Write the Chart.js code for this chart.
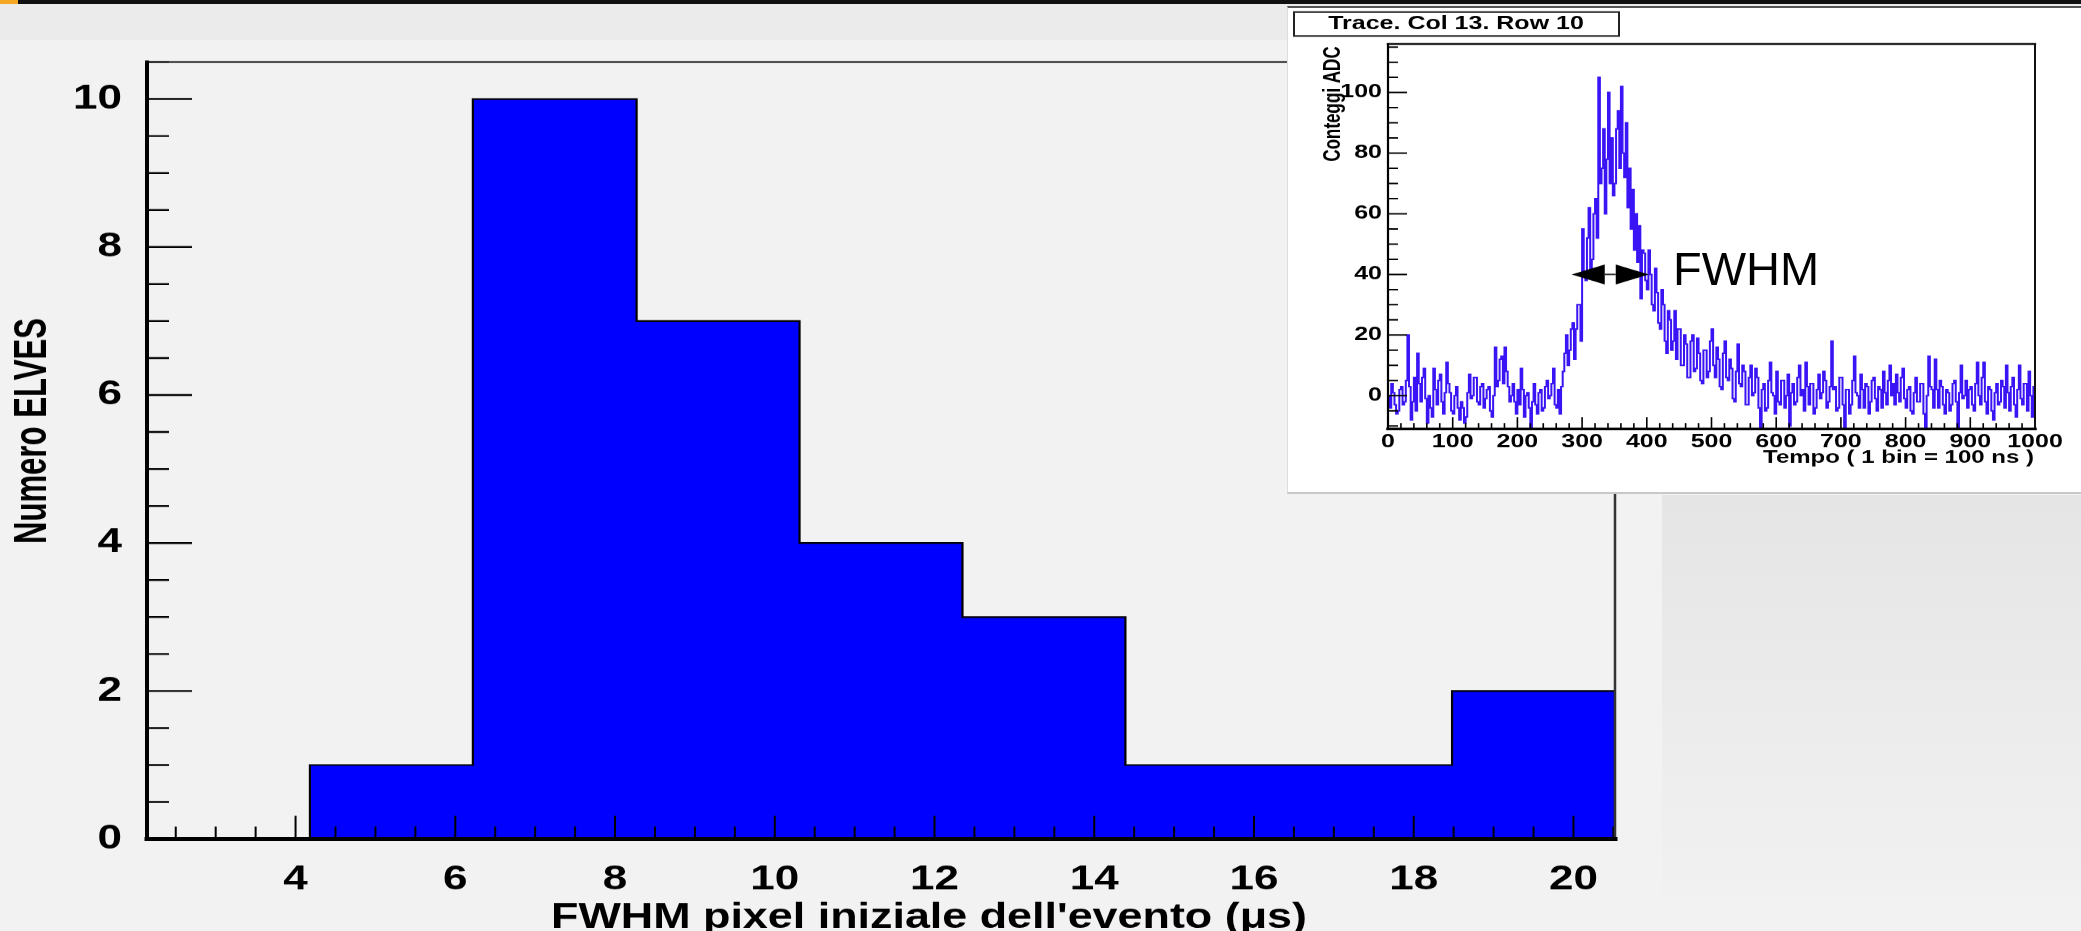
<!DOCTYPE html>
<html>
<head>
<meta charset="utf-8">
<title>FWHM pixel iniziale</title>
<script src="https://cdn.jsdelivr.net/npm/chart.js@4.4.1/dist/chart.umd.min.js"></script>
<style>
  html, body { margin: 0; padding: 0; }
  body {
    width: 2081px; height: 931px; overflow: hidden; position: relative;
    background: #f2f2f2; font-family: 'Liberation Sans', Arial, sans-serif;
  }
  .topbar { position: absolute; left: 0; top: 0; width: 2081px; height: 4px; background: #111; }
  .topbar-accent { position: absolute; left: 0; top: 0; width: 18px; height: 4px; background: #f5a623; }
  .header { position: absolute; left: 0; top: 4px; width: 2081px; height: 36px; background: #ebebeb; }
  .side-panel { position: absolute; left: 1662px; top: 495px; width: 419px; height: 400px; background: linear-gradient(#e5e5e5, #f1f1f1); }
  .inset-panel {
    position: absolute; left: 1287px; top: 6px; width: 794px; height: 484px; background: #fff;
    border-top: 2px solid #555; border-bottom: 2px solid #c8c8c8; border-left: 1px solid #ddd;
  }
  .squash { position: absolute; transform-origin: 0 0; }
  #main-wrap { left: 0; top: 0; transform: scaleY(0.77); }
  #inset-wrap { left: 1287px; top: 4px; transform: scaleY(0.74); }
  #fwhm-label { position: absolute; left: 0; top: 0; width: 2081px; height: 931px; pointer-events: none; }
</style>
</head>
<body>
<div class="topbar"></div>
<div class="topbar-accent"></div>
<div class="header"></div>
<div class="side-panel"></div>

<div id="main-wrap" class="squash">
  <canvas id="hist-chart" width="2081" height="1209" style="width:2081px;height:1209px"></canvas>
</div>

<div class="inset-panel"></div>
<div id="inset-wrap" class="squash">
  <canvas id="trace-chart" width="794" height="658" style="width:794px;height:658px"></canvas>
</div>

<svg id="fwhm-label" width="2081" height="931">
  <text x="1673" y="285" font-family="Liberation Sans, Arial, sans-serif" font-size="47" fill="#000">FWHM</text>
</svg>

<script>
/* ─── histogram: FWHM of the first pixel ─── */
var fwhmBinEdges = [2.14, 4.18, 6.22, 8.27, 10.31, 12.35, 14.39, 16.44, 18.48, 20.52];
var elvesCounts  = [0, 1, 10, 7, 4, 3, 1, 1, 2];
var fwhmTicks    = [4, 6, 8, 10, 12, 14, 16, 18, 20];
var elvesTicks   = [0, 2, 4, 6, 8, 10];

/* ─── inset: ADC trace, one value every 2.5 bins of 100 ns ─── */
var traceStep = 2.5;
var adcTrace = [
  0,-4, 4,1, -3,-6, -5,2, 3,-3, -2,5, 20,3, -8,-2, 6,-5, 14,4, -2,6, 9,-1, -9,0, -4,-7, 9,2, -3,5, 7,-2, -6,1, 11,4, 1,-5,
  -6,0, 3,-4, -8,-2, -4,-9, -7,1, 7,-1, 0,6, 6,-2, -3,3, 4,-4, -1,2, 3,-5, -7,0, 16,3, 5,12, 13,4, 16,8, 3,-2, 0,4, -2,-6,
  2,-3, 9,2, -7,0, 1,-4, -11,-2, 4,-3, -6,1, 2,-5, -4,3, 5,-1, 0,4, 9,-3, -4,2, -6,3, 8,14, 20,10, 15,22, 24,12, 22,30, 30,18,
  55,40, 38,52, 62,40, 45,60, 65,52, 105,70, 75,88, 60,78, 100,70, 85,66, 70,88, 94,75, 102,80, 72,90, 62,75, 55,68, 48,60, 44,56, 32,48, 47,38,
  35,48, 40,30, 28,42, 34,24, 22,35, 30,18, 14,28, 25,15, 18,28, 12,22, 22,10, 10,20, 17,6, 6,18, 20,8, 9,19, 14,5, 4,15, 15,6, 8,18,
  22,10, 6,16, 12,3, 2,14, 18,6, 5,12, 9,-1, -2,8, 17,4, 3,10, 8,-3, -3,6, 10,0, 1,9, 6,-4, -11,2, 4,-5, -4,5, 11,1, 0,-6,
  8,-2, -3,5, 5,-4, 0,7, -10,1, 4,-3, -2,6, 10,0, 2,-5, 11,3, -3,4, 4,-6, -4,2, 7,-1, 1,8, 5,-4, -2,3, 18,2, 3,-5, -4,6,
  6,-3, -11,2, 2,-6, -3,5, 13,1, 0,-4, 7,2, -4,4, 3,-6, -2,5, 6,-1, -5,3, 2,-4, 8,1, -3,5, 10,0, 4,-3, 7,1, -2,6, 9,-1,
  -4,2, 3,-5, -6,1, 6,-2, -2,4, 4,-6, -11,0, 13,3, 2,-4, 12,2, -4,5, 3,-3, -6,2, 1,-5, -3,4, 5,-2, -11,1, 10,-1, 0,5, -4,2,
  3,-3, -5,4, 11,0, -3,6, 11,-2, -6,3, 2,-5, -8,1, 4,-3, -2,5, 3,-4, 10,1, -5,3, 6,-3, -7,2, 10,-1, -3,4, 4,-5, 8,0, -7,3
];
var tempoTicks = [0, 100, 200, 300, 400, 500, 600, 700, 800, 900, 1000];
var adcTicks   = [0, 20, 40, 60, 80, 100];

var FONT = "'Liberation Sans', Arial, sans-serif";
var SQ_MAIN = 0.77, SQ_INSET = 0.74;

// ROOT style ticks, drawn inside the frame on top of the data
function drawInnerTicks(chart, t){
  var ctx = chart.ctx, a = chart.chartArea, x = chart.scales.x, y = chart.scales.y;
  ctx.save();
  ctx.strokeStyle = '#000';
  ctx.beginPath();
  ctx.lineWidth = t.xWidth;
  for(var v = Math.ceil(x.min / t.xMinor) * t.xMinor; v <= x.max + 1e-9; v += t.xMinor){
    var px = x.getPixelForValue(v);
    var len = t.xMajor.indexOf(v) >= 0 ? t.xMajorLen : t.xMinorLen;
    ctx.moveTo(px, a.bottom); ctx.lineTo(px, a.bottom - len);
  }
  ctx.stroke();
  ctx.beginPath();
  ctx.lineWidth = t.yWidth;
  for(var w = Math.ceil(y.min / t.yMinor) * t.yMinor; w <= y.max + 1e-9; w += t.yMinor){
    var py = y.getPixelForValue(w);
    var l = t.yMajor.indexOf(w) >= 0 ? t.yMajorLen : t.yMinorLen;
    ctx.moveTo(a.left, py); ctx.lineTo(a.left + l, py);
  }
  ctx.stroke();
  ctx.restore();
}

function drawFrame(chart, f){
  var ctx = chart.ctx, a = chart.chartArea;
  ctx.save();
  ctx.lineCap = 'square';
  ctx.strokeStyle = f.thin;
  ctx.lineWidth = f.topW;
  ctx.beginPath(); ctx.moveTo(a.left, a.top); ctx.lineTo(a.right, a.top); ctx.stroke();
  ctx.lineWidth = f.rightW;
  ctx.beginPath(); ctx.moveTo(a.right, a.top); ctx.lineTo(a.right, a.bottom); ctx.stroke();
  ctx.strokeStyle = '#000';
  ctx.lineWidth = f.leftW;
  ctx.beginPath(); ctx.moveTo(a.left, a.top); ctx.lineTo(a.left, a.bottom); ctx.stroke();
  ctx.lineWidth = f.bottomW;
  ctx.beginPath(); ctx.moveTo(a.left, a.bottom); ctx.lineTo(a.right, a.bottom); ctx.stroke();
  ctx.restore();
}

// fitLen: squeeze the text along its own direction to that length (canvas px)
function drawText(ctx, text, x, y, font, align, rotate, fitLen){
  ctx.save();
  ctx.translate(x, y);
  if(rotate) ctx.rotate(-Math.PI / 2);
  ctx.font = font;
  if(fitLen) ctx.scale(fitLen / ctx.measureText(text).width, 1);
  ctx.fillStyle = '#000';
  ctx.textAlign = align;
  ctx.textBaseline = 'middle';
  ctx.fillText(text, 0, 0);
  ctx.restore();
}

function plainTick(v){ return String(v); }

/* ─── main histogram ─── */
var histPoints = fwhmBinEdges.map(function(e, i){
  return {x: e, y: i < elvesCounts.length ? elvesCounts[i] : 0};
});

var histDecor = {
  id: 'histDecor',
  afterDatasetsDraw: function(chart){
    drawInnerTicks(chart, {
      xMinor: 0.5, xMajor: fwhmTicks, xMajorLen: 30, xMinorLen: 16, xWidth: 2,
      yMinor: 0.5, yMajor: elvesTicks, yMajorLen: 45, yMinorLen: 22, yWidth: 2.4
    });
    drawFrame(chart, {thin: '#333', topW: 2.6, rightW: 2.5, leftW: 4, bottomW: 5});
    var ctx = chart.ctx;
    drawText(ctx, "FWHM pixel iniziale dell'evento (\u03bcs)", 1307, 918 / SQ_MAIN, 'bold 46px ' + FONT, 'right', false, 756);
    drawText(ctx, 'Numero ELVES', 33, 431 / SQ_MAIN, 'bold 47px ' + FONT, 'center', true, 226 / SQ_MAIN);
  }
};

new Chart(document.getElementById('hist-chart'), {
  type: 'line',
  data: {
    datasets: [{
      data: histPoints,
      stepped: true,
      fill: 'origin',
      backgroundColor: '#0000ff',
      borderColor: '#000',
      borderWidth: 2.2,
      pointRadius: 0
    }]
  },
  options: {
    responsive: false,
    animation: false,
    layout: {padding: {left: 0, right: 2081 - 1615, top: 62 / SQ_MAIN, bottom: 0}},
    plugins: {legend: {display: false}, tooltip: {enabled: false}},
    scales: {
      x: {
        type: 'linear',
        min: fwhmBinEdges[0],
        max: fwhmBinEdges[fwhmBinEdges.length - 1],
        afterBuildTicks: function(s){ s.ticks = fwhmTicks.map(function(v){ return {value: v}; }); },
        afterFit: function(s){ s.height = 1209 - 839 / SQ_MAIN; },
        grid: {display: false, drawTicks: false},
        border: {display: false},
        ticks: {color: '#000', padding: 27, maxRotation: 0, autoSkip: false, callback: plainTick,
                font: {family: FONT, weight: 'bold', size: 44}}
      },
      y: {
        min: 0,
        max: 10.5,
        afterBuildTicks: function(s){ s.ticks = elvesTicks.map(function(v){ return {value: v}; }); },
        afterFit: function(s){ s.width = 147; },
        grid: {display: false, drawTicks: false},
        border: {display: false},
        ticks: {color: '#000', padding: 25, autoSkip: false, callback: plainTick,
                font: {family: FONT, weight: 'bold', size: 44}}
      }
    }
  },
  plugins: [histDecor]
});

/* ─── inset: trace of column 13, row 10 ─── */
var tracePoints = adcTrace.map(function(v, i){
  return {x: i * traceStep + traceStep / 2, y: v};
});
var fwhmArrow = {from: 284, to: 403, level: 40};

var traceDecor = {
  id: 'traceDecor',
  afterDatasetsDraw: function(chart){
    var ctx = chart.ctx, x = chart.scales.x, y = chart.scales.y;
    drawInnerTicks(chart, {
      xMinor: 20, xMajor: tempoTicks, xMajorLen: 16, xMinorLen: 8, xWidth: 1.6,
      yMinor: 5, yMajor: adcTicks, yMajorLen: 19, yMinorLen: 10, yWidth: 2
    });
    drawFrame(chart, {thin: '#111', topW: 2.4, rightW: 2, leftW: 2.2, bottomW: 3.5});

    // double arrow marking the width at half maximum
    var x0 = x.getPixelForValue(fwhmArrow.from), x1 = x.getPixelForValue(fwhmArrow.to);
    var yc = y.getPixelForValue(fwhmArrow.level), head = 33, half = 10 / SQ_INSET;
    ctx.save();
    ctx.fillStyle = '#000';
    ctx.strokeStyle = '#333';
    ctx.lineWidth = 2;
    ctx.beginPath(); ctx.moveTo(x0 + head, yc); ctx.lineTo(x1 - head, yc); ctx.stroke();
    ctx.beginPath(); ctx.moveTo(x0, yc); ctx.lineTo(x0 + head, yc - half); ctx.lineTo(x0 + head, yc + half); ctx.closePath(); ctx.fill();
    ctx.beginPath(); ctx.moveTo(x1, yc); ctx.lineTo(x1 - head, yc - half); ctx.lineTo(x1 - head, yc + half); ctx.closePath(); ctx.fill();
    ctx.restore();

    // title box
    ctx.save();
    ctx.strokeStyle = '#222';
    ctx.lineWidth = 2;
    ctx.strokeRect(7, 8 / SQ_INSET, 325, 24 / SQ_INSET);
    ctx.restore();
    drawText(ctx, 'Trace. Col 13. Row 10', 169, 20 / SQ_INSET, 'bold 25px ' + FONT, 'center', false);
    drawText(ctx, 'Tempo ( 1 bin = 100 ns )', 747, 454 / SQ_INSET, 'bold 24px ' + FONT, 'right', false);
    drawText(ctx, 'Conteggi ADC', 47, 100 / SQ_INSET, 'bold 23px ' + FONT, 'center', true);
  }
};

new Chart(document.getElementById('trace-chart'), {
  type: 'line',
  data: {
    datasets: [{
      data: tracePoints,
      stepped: 'middle',
      borderColor: '#3a14f5',
      borderWidth: 2,
      pointRadius: 0,
      fill: false
    }]
  },
  options: {
    responsive: false,
    animation: false,
    layout: {padding: {left: 0, right: 794 - 748, top: 40 / SQ_INSET, bottom: 0}},
    plugins: {legend: {display: false}, tooltip: {enabled: false}},
    scales: {
      x: {
        type: 'linear',
        min: 0,
        max: 1000,
        afterBuildTicks: function(s){ s.ticks = tempoTicks.map(function(v){ return {value: v}; }); },
        afterFit: function(s){ s.height = 658 - 425 / SQ_INSET; },
        grid: {display: false, drawTicks: false},
        border: {display: false},
        ticks: {color: '#000', padding: 3, maxRotation: 0, autoSkip: false, callback: plainTick,
                font: {family: FONT, weight: 'bold', size: 25}}
      },
      y: {
        min: -11,
        max: 116,
        afterBuildTicks: function(s){ s.ticks = adcTicks.map(function(v){ return {value: v}; }); },
        afterFit: function(s){ s.width = 101; },
        grid: {display: false, drawTicks: false},
        border: {display: false},
        ticks: {color: '#000', padding: 6, autoSkip: false, callback: plainTick,
                font: {family: FONT, weight: 'bold', size: 25}}
      }
    }
  },
  plugins: [traceDecor]
});
</script>
</body>
</html>
